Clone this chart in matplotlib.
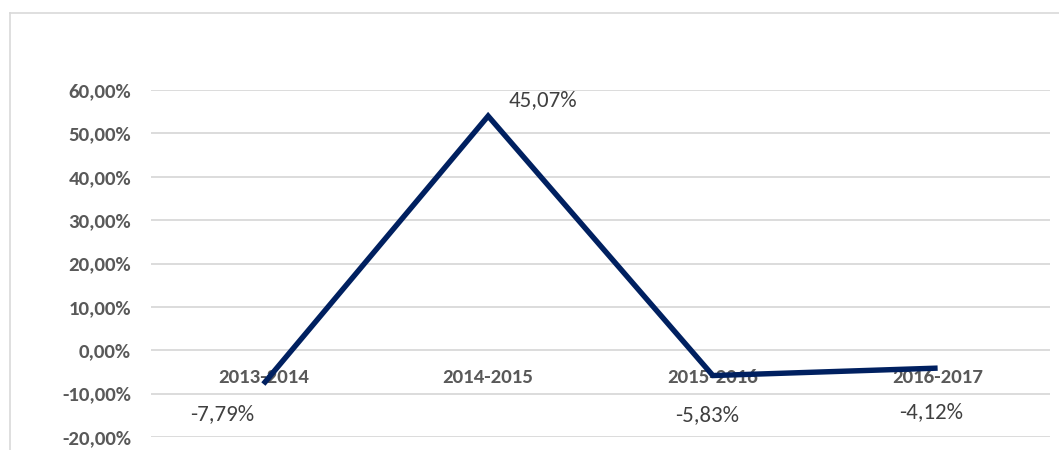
import matplotlib
matplotlib.use("Agg")
import matplotlib.pyplot as plt
from matplotlib.ticker import FuncFormatter, MultipleLocator
from matplotlib.lines import Line2D

plt.rcParams['font.family'] = ['Carlito', 'Lato', 'DejaVu Sans']

# ---- data ----
categories = ["2013-2014", "2014-2015", "2015-2016", "2016-2017"]
values = [-7.79, 54.0, -5.83, -4.12]          # plotted position (%)
value_labels = ["-7,79%", "45,07%", "-5,83%", "-4,12%"]   # data label texts as shown
label_offsets_px = [(-41, -30), (55, 16), (-6, -40), (-6, -44)]

W, H = 1059, 450
fig = plt.figure(figsize=(W / 100, H / 100), dpi=100)
fig.patch.set_facecolor("white")

# chart-area border (top and left visible)
bx = 10 / W
by = 1 - 13 / H
fig.add_artist(Line2D([bx, 1.0], [by, by], transform=fig.transFigure,
                      color="#d9d9d9", lw=1.2))
fig.add_artist(Line2D([bx, bx], [0.0, by], transform=fig.transFigure,
                      color="#d9d9d9", lw=1.2))

left, right = 151 / W, 1050 / W
bottom, top = 1 - 437 / H, 1 - 90 / H
ax = fig.add_axes([left, bottom, right - left, top - bottom])
ax.set_facecolor("none")

x = list(range(len(categories)))
ax.plot(x, values, color="#002060", lw=3.9, solid_capstyle="butt",
        solid_joinstyle="miter", zorder=5, clip_on=False)

ax.set_xlim(-0.5, len(categories) - 0.5)
ax.set_ylim(-20, 60)
ax.yaxis.set_major_locator(MultipleLocator(10))
ax.yaxis.set_major_formatter(FuncFormatter(lambda v, p: f"{v:.2f}%".replace(".", ",")))
ax.grid(axis="y", color="#d9d9d9", lw=1.3, zorder=0)
ax.set_axisbelow(True)

for s in ax.spines.values():
    s.set_visible(False)
ax.spines["bottom"].set_position(("data", 0))

ax.set_xticks(x)
ax.set_xticklabels(categories)
ax.tick_params(axis="both", length=0)
ax.tick_params(axis="y", pad=14.4, labelsize=15, labelcolor="#595959")
ax.tick_params(axis="x", pad=19.5, labelsize=15, labelcolor="#595959")
for lab in ax.get_yticklabels() + ax.get_xticklabels():
    lab.set_fontweight("bold")
for lab in ax.get_xticklabels():
    lab.set_va("center")

for xi, v, t, (dx, dy) in zip(x, values, value_labels, label_offsets_px):
    ax.annotate(t, (xi, v), xytext=(dx, dy), textcoords="offset pixels",
                ha="center", va="center", fontsize=16.5, color="#404040",
                zorder=6, annotation_clip=False)

fig.savefig("out.png", dpi=100, facecolor="white")
